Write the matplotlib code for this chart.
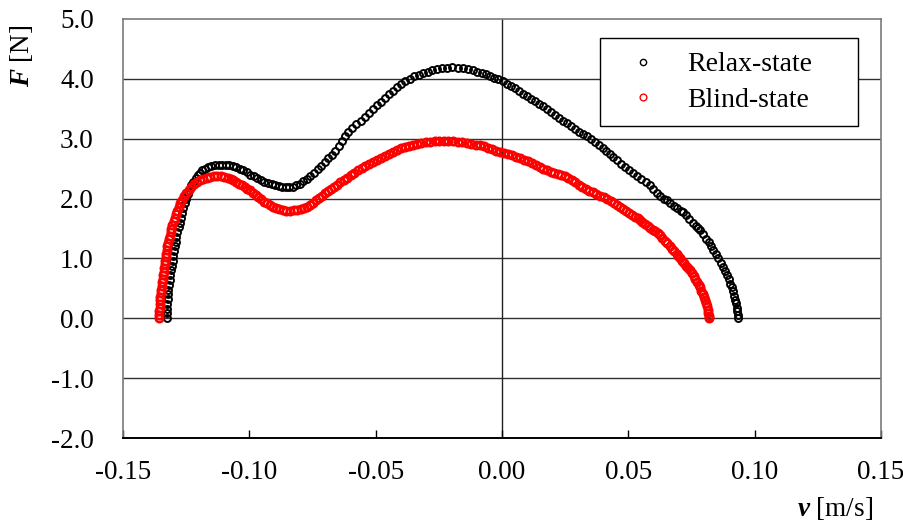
import matplotlib
matplotlib.use("Agg")
import matplotlib.pyplot as plt

plt.rcParams['font.family'] = ['Liberation Serif', 'DejaVu Serif']
plt.rcParams['axes.unicode_minus'] = False
plt.rcParams['mathtext.fontset'] = 'custom'
plt.rcParams['mathtext.bf'] = 'Liberation Serif:italic:bold'
plt.rcParams['mathtext.rm'] = 'Liberation Serif'

# ---- data ----
relax_v = [
    -0.1326, -0.1326, -0.1325, -0.1324, -0.1323, -0.1321, -0.1320, -0.1318, -0.1315, -0.1313,
    -0.1311, -0.1308, -0.1304, -0.1301, -0.1298, -0.1295, -0.1292, -0.1289, -0.1285, -0.1280,
    -0.1276, -0.1271, -0.1267, -0.1262, -0.1256, -0.1251, -0.1244, -0.1238, -0.1231, -0.1222,
    -0.1213, -0.1205, -0.1196, -0.1186, -0.1174, -0.1162, -0.1150, -0.1136, -0.1122, -0.1108,
    -0.1094, -0.1080, -0.1066, -0.1052, -0.1038, -0.1024, -0.1010, -0.0996, -0.0982, -0.0968,
    -0.0954, -0.0940, -0.0926, -0.0912, -0.0898, -0.0884, -0.0870, -0.0856, -0.0842, -0.0828,
    -0.0814, -0.0800, -0.0786, -0.0772, -0.0758, -0.0744, -0.0730, -0.0716, -0.0702, -0.0688,
    -0.0674, -0.0660, -0.0646, -0.0634, -0.0622, -0.0608, -0.0592, -0.0576, -0.0560, -0.0544,
    -0.0528, -0.0512, -0.0496, -0.0480, -0.0464, -0.0448, -0.0432, -0.0416, -0.0400, -0.0384,
    -0.0366, -0.0348, -0.0330, -0.0312, -0.0294, -0.0276, -0.0256, -0.0236, -0.0216, -0.0196,
    -0.0176, -0.0156, -0.0136, -0.0116, -0.0098, -0.0080, -0.0062, -0.0046, -0.0030, -0.0014,
    0.0002, 0.0018, 0.0034, 0.0050, 0.0066, 0.0082, 0.0098, 0.0114, 0.0130, 0.0146,
    0.0162, 0.0178, 0.0194, 0.0210, 0.0226, 0.0242, 0.0258, 0.0274, 0.0290, 0.0306,
    0.0322, 0.0338, 0.0354, 0.0370, 0.0384, 0.0398, 0.0412, 0.0426, 0.0440, 0.0456,
    0.0472, 0.0488, 0.0504, 0.0520, 0.0536, 0.0552, 0.0568, 0.0584, 0.0598, 0.0612,
    0.0626, 0.0640, 0.0652, 0.0666, 0.0680, 0.0694, 0.0708, 0.0718, 0.0730, 0.0742,
    0.0754, 0.0766, 0.0776, 0.0784, 0.0796, 0.0808, 0.0818, 0.0828, 0.0836, 0.0846,
    0.0856, 0.0866, 0.0876, 0.0884, 0.0892, 0.0899, 0.0904, 0.0909, 0.0914, 0.0919,
    0.0923, 0.0927, 0.0930, 0.0932, 0.0933, 0.0934,
]
relax_F = [
    0.00, 0.08, 0.16, 0.24, 0.32, 0.40, 0.48, 0.56, 0.64, 0.72,
    0.80, 0.88, 0.96, 1.04, 1.12, 1.20, 1.28, 1.36, 1.44, 1.52,
    1.60, 1.68, 1.76, 1.84, 1.92, 2.00, 2.08, 2.15, 2.22, 2.28,
    2.34, 2.39, 2.43, 2.47, 2.50, 2.53, 2.55, 2.56, 2.565, 2.565,
    2.56, 2.555, 2.54, 2.52, 2.50, 2.47, 2.44, 2.40, 2.37, 2.34,
    2.31, 2.28, 2.26, 2.24, 2.22, 2.205, 2.19, 2.185, 2.19, 2.20,
    2.22, 2.25, 2.29, 2.33, 2.38, 2.43, 2.49, 2.55, 2.61, 2.67,
    2.73, 2.80, 2.88, 2.96, 3.04, 3.11, 3.18, 3.24, 3.30, 3.37,
    3.43, 3.49, 3.56, 3.62, 3.68, 3.74, 3.80, 3.86, 3.91, 3.96,
    4.00, 4.04, 4.07, 4.10, 4.12, 4.14, 4.16, 4.175, 4.185, 4.19,
    4.185, 4.175, 4.16, 4.14, 4.12, 4.10, 4.08, 4.05, 4.02, 3.99,
    3.96, 3.92, 3.88, 3.84, 3.80, 3.75, 3.71, 3.67, 3.63, 3.58,
    3.54, 3.49, 3.45, 3.40, 3.35, 3.30, 3.26, 3.21, 3.16, 3.12,
    3.08, 3.04, 2.99, 2.95, 2.89, 2.84, 2.79, 2.74, 2.69, 2.64,
    2.58, 2.53, 2.47, 2.42, 2.37, 2.32, 2.27, 2.22, 2.16, 2.10,
    2.04, 1.99, 1.97, 1.92, 1.88, 1.84, 1.80, 1.78, 1.72, 1.66,
    1.60, 1.55, 1.51, 1.47, 1.40, 1.33, 1.27, 1.20, 1.14, 1.07,
    1.00, 0.93, 0.86, 0.79, 0.72, 0.65, 0.58, 0.52, 0.45, 0.38,
    0.31, 0.25, 0.18, 0.12, 0.06, 0.00,
]

blind_v = [
    -0.1357, -0.1357, -0.1356, -0.1355, -0.1354, -0.1353, -0.1352, -0.1350, -0.1348, -0.1346,
    -0.1345, -0.1343, -0.1341, -0.1339, -0.1337, -0.1335, -0.1333, -0.1331, -0.1329, -0.1327,
    -0.1324, -0.1321, -0.1318, -0.1315, -0.1312, -0.1309, -0.1305, -0.1300, -0.1295, -0.1290,
    -0.1285, -0.1280, -0.1274, -0.1267, -0.1259, -0.1250, -0.1240, -0.1230, -0.1219, -0.1207,
    -0.1195, -0.1182, -0.1169, -0.1155, -0.1141, -0.1127, -0.1113, -0.1099, -0.1086, -0.1074,
    -0.1063, -0.1052, -0.1041, -0.1030, -0.1019, -0.1008, -0.0997, -0.0986, -0.0975, -0.0964,
    -0.0953, -0.0942, -0.0932, -0.0920, -0.0908, -0.0895, -0.0881, -0.0867, -0.0853, -0.0839,
    -0.0825, -0.0811, -0.0797, -0.0784, -0.0772, -0.0760, -0.0748, -0.0736, -0.0724, -0.0712,
    -0.0700, -0.0688, -0.0676, -0.0664, -0.0652, -0.0640, -0.0626, -0.0612, -0.0598, -0.0584,
    -0.0570, -0.0556, -0.0542, -0.0528, -0.0512, -0.0496, -0.0480, -0.0464, -0.0448, -0.0432,
    -0.0416, -0.0400, -0.0384, -0.0368, -0.0352, -0.0336, -0.0320, -0.0302, -0.0284, -0.0266,
    -0.0248, -0.0230, -0.0212, -0.0194, -0.0176, -0.0158, -0.0140, -0.0122, -0.0104, -0.0088,
    -0.0072, -0.0056, -0.0040, -0.0024, -0.0008, 0.0008, 0.0024, 0.0040, 0.0056, 0.0072,
    0.0088, 0.0104, 0.0120, 0.0136, 0.0150, 0.0164, 0.0178, 0.0192, 0.0206, 0.0220,
    0.0234, 0.0248, 0.0262, 0.0276, 0.0290, 0.0304, 0.0318, 0.0332, 0.0346, 0.0361,
    0.0374, 0.0388, 0.0402, 0.0416, 0.0430, 0.0442, 0.0454, 0.0466, 0.0478, 0.0490,
    0.0502, 0.0514, 0.0526, 0.0538, 0.0546, 0.0556, 0.0566, 0.0576, 0.0586, 0.0596,
    0.0606, 0.0616, 0.0625, 0.0635, 0.0645, 0.0655, 0.0664, 0.0673, 0.0682, 0.0691,
    0.0698, 0.0706, 0.0714, 0.0722, 0.0730, 0.0737, 0.0744, 0.0751, 0.0758, 0.0765,
    0.0771, 0.0778, 0.0784, 0.0789, 0.0794, 0.0799, 0.0803, 0.0807, 0.0811, 0.0814,
    0.0816, 0.0818, 0.0819,
]
blind_F = [
    0.00, 0.06, 0.12, 0.18, 0.24, 0.30, 0.36, 0.42, 0.48, 0.54,
    0.60, 0.66, 0.72, 0.78, 0.84, 0.90, 0.96, 1.02, 1.08, 1.14,
    1.20, 1.26, 1.32, 1.38, 1.44, 1.50, 1.56, 1.62, 1.68, 1.74,
    1.80, 1.86, 1.92, 1.98, 2.04, 2.10, 2.15, 2.20, 2.24, 2.28,
    2.31, 2.335, 2.35, 2.36, 2.37, 2.375, 2.37, 2.36, 2.35, 2.33,
    2.31, 2.28, 2.25, 2.22, 2.19, 2.16, 2.14, 2.10, 2.06, 2.03,
    1.99, 1.95, 1.92, 1.89, 1.86, 1.84, 1.82, 1.805, 1.80, 1.80,
    1.805, 1.81, 1.82, 1.84, 1.86, 1.89, 1.93, 1.97, 2.01, 2.05,
    2.09, 2.13, 2.16, 2.20, 2.23, 2.27, 2.31, 2.35, 2.39, 2.43,
    2.47, 2.51, 2.54, 2.57, 2.61, 2.64, 2.68, 2.71, 2.75, 2.78,
    2.81, 2.84, 2.86, 2.88, 2.90, 2.915, 2.93, 2.94, 2.95, 2.955,
    2.96, 2.96, 2.96, 2.955, 2.95, 2.94, 2.93, 2.92, 2.90, 2.89,
    2.87, 2.84, 2.82, 2.80, 2.78, 2.76, 2.74, 2.72, 2.70, 2.68,
    2.65, 2.62, 2.59, 2.56, 2.53, 2.50, 2.48, 2.45, 2.43, 2.41,
    2.39, 2.37, 2.35, 2.31, 2.27, 2.23, 2.19, 2.16, 2.13, 2.11,
    2.08, 2.05, 2.02, 1.99, 1.96, 1.92, 1.89, 1.86, 1.83, 1.80,
    1.76, 1.73, 1.70, 1.67, 1.64, 1.61, 1.58, 1.55, 1.51, 1.48,
    1.45, 1.42, 1.39, 1.34, 1.29, 1.25, 1.20, 1.16, 1.12, 1.08,
    1.04, 1.00, 0.96, 0.92, 0.88, 0.84, 0.80, 0.75, 0.70, 0.65,
    0.60, 0.56, 0.52, 0.46, 0.41, 0.36, 0.31, 0.25, 0.20, 0.14,
    0.09, 0.04, 0.00,
]

x_ticks = [-0.15, -0.10, -0.05, 0.00, 0.05, 0.10, 0.15]
x_ticklabels = ["-0.15", "-0.10", "-0.05", "0.00", "0.05", "0.10", "0.15"]
y_ticks = [-2.0, -1.0, 0.0, 1.0, 2.0, 3.0, 4.0, 5.0]
y_ticklabels = ["-2.0", "-1.0", "0.0", "1.0", "2.0", "3.0", "4.0", "5.0"]

# ---- figure ----
W, H = 904, 524
fig = plt.figure(figsize=(W / 100, H / 100), dpi=100)
ax = fig.add_axes([123 / W, 1 - 438 / H, (881 - 123) / W, (438 - 19) / H])

ax.set_xlim(-0.15, 0.15)
ax.set_ylim(-2.0, 5.0)

for yv in y_ticks[1:-1]:
    ax.axhline(yv, color='#303030', lw=1.0, zorder=1)
ax.axvline(0.0, color='#202020', lw=1.0, zorder=1)

ax.plot(relax_v, relax_F, linestyle='none', marker='o', ms=5.0, mfc='none',
        mec='black', mew=1.4, label='Relax-state', zorder=3)
ax.plot(blind_v, blind_F, linestyle='none', marker='o', ms=5.4, mfc='none',
        mec='#ff0000', mew=1.8, label='Blind-state', zorder=3)

ax.set_xticks(x_ticks)
ax.set_xticklabels(x_ticklabels)
ax.set_yticks(y_ticks)
ax.set_yticklabels(y_ticklabels)
ax.tick_params(axis='x', direction='in', length=6, width=1.0, color='black',
               labelsize=19.5, pad=16)
ax.tick_params(axis='y', length=0, labelsize=19.5, pad=21)

for side in ['left', 'top', 'right']:
    ax.spines[side].set_color('#7a7a7a')
    ax.spines[side].set_linewidth(1.2)
ax.spines['bottom'].set_color('black')
ax.spines['bottom'].set_linewidth(1.4)

leg = ax.legend(loc='upper left',
                bbox_to_anchor=(600 / W, 1 - 125 / H, 258 / W, 87 / H),
                bbox_transform=fig.transFigure, mode='expand',
                borderaxespad=0, frameon=True, fancybox=False,
                edgecolor='black', framealpha=1, fontsize=20,
                handlelength=2.1, handletextpad=0.55, borderpad=0.5,
                labelspacing=0.35, markerscale=0.9)
leg.get_frame().set_linewidth(1.0)
for h in leg.legend_handles:
    h.set_markeredgewidth(1.0)

fig.text(22 / W, 1 - 56 / H, r'$\mathbf{F}$ [N]', rotation=90,
         ha='center', va='center', fontsize=19.5)
fig.text(873 / W, 1 - 508 / H, r'$\mathbf{v}$ [m/s]',
         ha='right', va='center', fontsize=19.5)

fig.savefig('out.png', dpi=100)
